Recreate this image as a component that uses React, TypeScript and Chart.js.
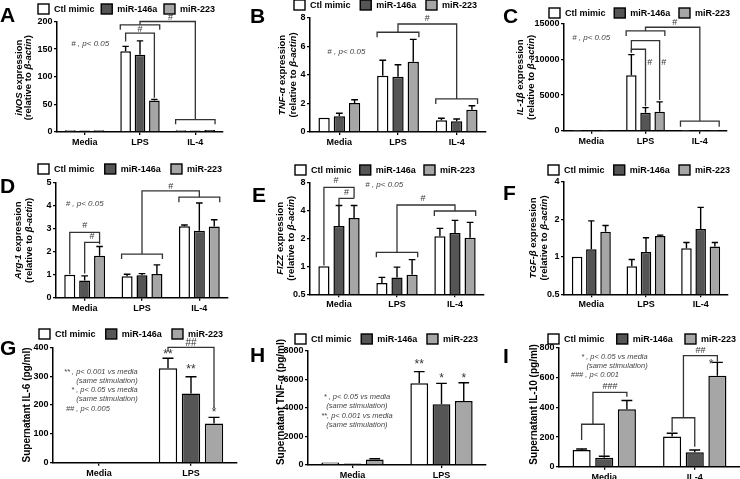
import React, { useEffect, useRef } from 'react';
import { Chart, registerables } from 'chart.js';

Chart.register(...registerables);

const FONT = 'Arial, "Liberation Sans", Helvetica, sans-serif';
Chart.defaults.font.family = FONT;

// ---------- shared ----------
const SERIES = ['Ctl mimic', 'miR-146a', 'miR-223'];
const SERIES_COLORS = ['#ffffff', '#555555', '#a6a6a6'];

const CATS_ABC = ['Media', 'LPS', 'IL-4'];
const CATS_DEF = ['Media', 'LPS', 'IL-4'];
const CATS_G = ['Media', 'LPS'];
const CATS_H = ['Media', 'LPS'];
const CATS_I = ['Media', 'IL-4'];

// ---------- A: iNOS ----------
const A_CTL = [3, 146, 3];
const A_146 = [2.5, 140, 2.5];
const A_223 = [3, 57, 3.5];
const A_CTL_UP = [null, 155, null];
const A_146_UP = [null, 165, null];
const A_223_UP = [null, 59, null];
const A_TICKS = [0, 50, 100, 150, 200];

// ---------- B: TNF-a ----------
const B_CTL = [1.0, 3.95, 0.82];
const B_146 = [1.1, 3.87, 0.75];
const B_223 = [2.03, 4.93, 1.57];
const B_CTL_UP = [null, 5.03, 0.97];
const B_146_UP = [1.32, 4.72, 0.91];
const B_223_UP = [2.26, 6.5, 1.84];
const B_TICKS = [0, 2, 4, 6, 8];

// ---------- C: IL-1b ----------
const C_CTL = [1, 7800, 1];
const C_146 = [1, 2520, 1];
const C_223 = [1, 2650, 1];
const C_CTL_UP = [null, 10700, null];
const C_146_UP = [null, 3250, null];
const C_223_UP = [null, 4050, null];
const C_TICKS = [0, 5000, 10000, 15000];

// ---------- D: Arg-1 ----------
const D_CTL = [1.0, 0.93, 3.12];
const D_146 = [0.75, 0.98, 2.92];
const D_223 = [1.83, 1.03, 3.1];
const D_CTL_UP = [null, 1.02, 3.17];
const D_146_UP = [0.95, 1.05, 4.13];
const D_223_UP = [2.23, 1.43, 3.4];
const D_TICKS = [0, 1, 2, 3, 4, 5];

// ---------- E: FIZZ ----------
const E_CTL = [1.0, 0.66, 2.1];
const E_146 = [2.72, 0.76, 2.28];
const E_223 = [3.3, 0.81, 2.03];
const E_CTL_UP = [null, 0.76, 2.56];
const E_146_UP = [4.5, 0.98, 3.12];
const E_223_UP = [4.5, 1.18, 2.97];
const E_TICKS = [0.5, 1, 2, 4, 8];

// ---------- F: TGF-b ----------
const F_CTL = [1.0, 0.84, 1.17];
const F_146 = [1.15, 1.09, 1.67];
const F_223 = [1.59, 1.47, 1.21];
const F_CTL_UP = [null, 0.95, 1.3];
const F_146_UP = [1.94, 1.42, 2.49];
const F_223_UP = [1.78, 1.49, 1.3];
const F_TICKS = [0.5, 1, 2, 4];

// ---------- G: IL-6 ----------
const G_CTL = [0, 327];
const G_146 = [0, 240];
const G_223 = [0, 136];
const G_CTL_UP = [null, 362];
const G_146_UP = [null, 298];
const G_223_UP = [null, 157];
const G_TICKS = [0, 100, 200, 300, 400];

// ---------- H: TNF-a supernatant ----------
const H_CTL = [170, 5730];
const H_146 = [110, 4260];
const H_223 = [390, 4490];
const H_CTL_UP = [null, 6550];
const H_146_UP = [null, 5730];
const H_223_UP = [440, 5770];
const H_TICKS = [0, 2000, 4000, 6000, 8000];

// ---------- I: IL-10 ----------
const I_CTL = [113, 203];
const I_146 = [61, 97];
const I_223 = [388, 613];
const I_CTL_UP = [119, 225];
const I_146_UP = [70, 113];
const I_223_UP = [446, 703];
const I_TICKS = [0, 200, 400, 600, 800];

// ---------- annotation helpers (x refs resolved through the chart's scales / bars) ----------
const bar = (c: number, d: number, e = 0) => ({ c, d, e });
const cat = (c: number) => ({ c });
const bracket = (x1: any, x2: any, y: number, y1: number, y2: number) => ({ k: 'path', pts: [[x1, y1], [x1, y], [x2, y], [x2, y2]] });
const link = (x1: any, y1: number, yTop: number, x2: any, y2: number) => ({ k: 'path', pts: [[x1, y1], [x1, yTop], [x2, yTop], [x2, y2]] });
const mark = (x: any, y: number, t: string, size = 9) => ({ k: 'text', x, y, t, size, italic: false, color: '#333', align: 'center' });
const note = (x: any, y: number, t: string, align = 'center', size = 8) => ({ k: 'text', x, y, t, size, italic: true, color: '#444', align });

const REL = '(relative to _β-actin_)';

const PANELS: any[] = [
  {
    letter: 'A', letterPos: [0, 22],
    box: { x: 0, y: 0, w: 245, h: 155 }, plot: { l: 57, t: 21.5, r: 223, b: 132 },
    cats: CATS_ABC, series: [A_CTL, A_146, A_223], up: [A_CTL_UP, A_146_UP, A_223_UP], ticks: A_TICKS,
    catPct: 0.78, barPct: 0.74, legend: { l: 38, r: 215, y: 9 },
    title: { lines: ['_iNOS_ expression', REL], dx: [-38, -29], dy: 1, size: 9.5 },
    ann: [
      bracket(bar(1, 0, -1), bar(1, 2, 1), 194, 185, 185),
      link(cat(1), 194, 200, cat(2), 22.5),
      bracket(bar(2, 0, -1), bar(2, 2, 1), 22.5, 14, 14),
      mark(cat(1.55), 207, '#'),
      bracket(bar(1, 0), bar(1, 2), 179, 164, 62),
      mark(cat(1), 185, '#'),
      note(cat(0.1), 159, '# , p< 0.05'),
    ],
  },
  {
    letter: 'B', letterPos: [250, 23],
    box: { x: 245, y: 0, w: 245, h: 155 }, plot: { l: 310, t: 18, r: 486, b: 132 },
    cats: CATS_ABC, series: [B_CTL, B_146, B_223], up: [B_CTL_UP, B_146_UP, B_223_UP], ticks: B_TICKS,
    catPct: 0.78, barPct: 0.74, legend: { l: 294, r: 477, y: 5 },
    title: { lines: ['_TNF-α_ expression', REL], dx: [-27.5, -17], dy: 0, size: 9.5 },
    ann: [
      bracket(bar(1, 0, -1), bar(1, 2, 1), 7.0, 6.65, 6.65),
      link(cat(1), 7.0, 7.58, cat(2), 2.32),
      bracket(bar(2, 0, -1), bar(2, 2, 1), 2.32, 1.96, 1.96),
      mark(cat(1.5), 7.95, '#'),
      note(cat(0.12), 5.6, '# , p< 0.05'),
    ],
  },
  {
    letter: 'C', letterPos: [503, 23],
    box: { x: 490, y: 0, w: 250, h: 155 }, plot: { l: 564, t: 24, r: 727, b: 130.7 },
    cats: CATS_ABC, series: [C_CTL, C_146, C_223], up: [C_CTL_UP, C_146_UP, C_223_UP], ticks: C_TICKS,
    catPct: 0.78, barPct: 0.74, legend: { l: 549, r: 730, y: 13 },
    title: { lines: ['_IL-1β_ expression', REL], dx: [-44, -32.5], dy: 0, size: 9.5 },
    ann: [
      bracket(bar(1, 0, -1), bar(1, 2, 1), 14020, 13320, 13320),
      link(cat(1), 14020, 14540, cat(2), 1360),
      bracket(bar(2, 0, -1), bar(2, 2, 1), 1360, 560, 560),
      mark(cat(1.54), 15150, '#'),
      bracket(bar(1, 0), bar(1, 2), 12660, 11000, 4310),
      bracket(bar(1, 0), bar(1, 1), 11450, 11000, 3450),
      mark(bar(1, 1, 0.8), 9560, '#'),
      mark(bar(1, 2, 0.8), 9560, '#'),
      note(cat(0), 13130, '# , p< 0.05'),
    ],
  },
  {
    letter: 'D', letterPos: [0, 193],
    box: { x: 0, y: 155, w: 245, h: 160 }, plot: { l: 56, t: 183, r: 228, b: 297.7 },
    cats: CATS_DEF, series: [D_CTL, D_146, D_223], up: [D_CTL_UP, D_146_UP, D_223_UP], ticks: D_TICKS,
    catPct: 0.78, barPct: 0.74, legend: { l: 38, r: 222, y: 169 },
    title: { lines: ['_Arg-1_ expression', REL], dx: [-38, -27], dy: 0, size: 9.5 },
    ann: [
      bracket(bar(0, 0), bar(0, 2), 2.85, 1.02, 2.33),
      bracket(bar(0, 1), bar(0, 2), 2.41, 1.06, 2.41),
      mark(cat(0), 3.14, '#'),
      mark(bar(0, 1.5), 2.66, '#'),
      bracket(bar(1, 0, -1), bar(1, 2, 1), 1.9, 1.69, 1.69),
      link(cat(1), 1.9, 4.66, cat(2), 4.38),
      bracket(bar(2, 0, -1), bar(2, 2, 1), 4.38, 4.16, 4.16),
      mark(cat(1.5), 4.86, '#'),
      note(cat(0), 4.08, '# , p< 0.05'),
    ],
  },
  {
    letter: 'E', letterPos: [252, 202],
    box: { x: 245, y: 155, w: 245, h: 160 }, plot: { l: 310, t: 182.3, r: 484, b: 294.3 },
    cats: CATS_DEF, series: [E_CTL, E_146, E_223], up: [E_CTL_UP, E_146_UP, E_223_UP], ticks: E_TICKS, log: true,
    catPct: 0.78, barPct: 0.74, legend: { l: 295, r: 475, y: 170 },
    title: { lines: ['_FIZZ_ expression', REL], dx: [-30, -19], dy: 0, size: 9.5 },
    ann: [
      bracket(bar(0, 0), bar(0, 2), 7.07, 1.02, 5.38),
      bracket(bar(0, 1), bar(0, 2), 5.38, 4.56, 5.38),
      mark(cat(-0.05), 8.3, '#'),
      mark(bar(0, 1.5), 6.24, '#'),
      bracket(bar(1, 0, -1), bar(1, 2, 1), 1.41, 1.25, 1.25),
      link(cat(1), 1.41, 4.56, cat(2), 3.93),
      bracket(bar(2, 0, -1), bar(2, 2, 1), 3.93, 3.47, 3.47),
      mark(cat(1.45), 5.4, '#'),
      note(cat(0.78), 7.5, '# , p< 0.05'),
    ],
  },
  {
    letter: 'F', letterPos: [503, 200],
    box: { x: 490, y: 155, w: 250, h: 160 }, plot: { l: 564, t: 181.7, r: 728, b: 294.3 },
    cats: CATS_DEF, series: [F_CTL, F_146, F_223], up: [F_CTL_UP, F_146_UP, F_223_UP], ticks: F_TICKS, log: true,
    catPct: 0.78, barPct: 0.74, legend: { l: 548, r: 730, y: 170 },
    title: { lines: ['_TGF-β_ expression', REL], dx: [-31, -20], dy: 0, size: 9.5 },
    ann: [],
  },
  {
    letter: 'G', letterPos: [0, 355],
    box: { x: 0, y: 315, w: 245, h: 164 }, plot: { l: 53, t: 347.3, r: 237, b: 462.7 },
    cats: CATS_G, series: [G_CTL, G_146, G_223], up: [G_CTL_UP, G_146_UP, G_223_UP], ticks: G_TICKS,
    catPct: 0.75, barPct: 0.8, legend: { l: 39, r: 223, y: 334 },
    title: { lines: ['Supernatant IL-6 (pg/ml)'], dx: [-25.5], dy: 0, size: 10 },
    ann: [
      mark(bar(1, 0), 376, '**', 12),
      mark(bar(1, 1), 321, '**', 12),
      mark(bar(1, 2), 175, '*', 12),
      bracket(bar(1, 0), bar(1, 2), 400, 385, 190),
      mark(cat(1), 414, '##', 10),
      note(cat(0.42), 313, '** , p< 0.001 vs media', 'right', 7.5),
      note(cat(0.42), 284, '(same stimulation)', 'right', 7.5),
      note(cat(0.42), 252, '* , p< 0.05 vs media', 'right', 7.5),
      note(cat(0.42), 220, '(same stimulation)', 'right', 7.5),
      note(cat(-0.36), 186, '## , p< 0.005', 'left', 7.5),
    ],
  },
  {
    letter: 'H', letterPos: [250, 362],
    box: { x: 245, y: 315, w: 245, h: 164 }, plot: { l: 308, t: 351, r: 486, b: 465 },
    cats: CATS_H, series: [H_CTL, H_146, H_223], up: [H_CTL_UP, H_146_UP, H_223_UP], ticks: H_TICKS,
    catPct: 0.75, barPct: 0.8, legend: { l: 295, r: 478, y: 339 },
    title: { lines: ['Supernatant TNF-α (pg/ml)'], dx: [-27], dy: -6, size: 10 },
    ann: [
      mark(bar(1, 0), 7020, '**', 12),
      mark(bar(1, 1), 6080, '*', 12),
      mark(bar(1, 2), 6080, '*', 12),
      note(cat(0.05), 4793, '* , p< 0.05 vs media', 'center', 7.5),
      note(cat(0.05), 4161, '(same stimulation)', 'center', 7.5),
      note(cat(0.05), 3460, '**, p< 0.001 vs media', 'center', 7.5),
      note(cat(0.05), 2807, '(same stimulation)', 'center', 7.5),
    ],
  },
  {
    letter: 'I', letterPos: [503, 363],
    box: { x: 490, y: 315, w: 250, h: 164 }, plot: { l: 559, t: 348, r: 740, b: 466.7 },
    cats: CATS_I, series: [I_CTL, I_146, I_223], up: [I_CTL_UP, I_146_UP, I_223_UP], ticks: I_TICKS,
    catPct: 0.75, barPct: 0.8, legend: { l: 548, r: 736, y: 339 },
    title: { lines: ['Supernatant IL-10 (pg/ml)'], dx: [-25], dy: -3, size: 10 },
    ann: [
      bracket(bar(0, 0), bar(0, 1), 286, 180, 72),
      link(bar(0, 0.5), 286, 501, bar(0, 2), 472),
      mark(bar(0, 1.25), 539, '###', 9),
      bracket(bar(1, 0), bar(1, 1), 330, 236, 135),
      link(bar(1, 0.5), 330, 748, bar(1, 2), 707),
      mark(bar(1, 1.25), 786, '##', 9),
      mark(bar(1, 2, -0.7), 690, '*', 12),
      note(cat(0.48), 741, '* , p< 0.05 vs media', 'right', 7.5),
      note(cat(0.48), 681, '(same stimulation)', 'right', 7.5),
      note(cat(-0.37), 618, '### , p< 0.001', 'left', 7.5),
    ],
  },
];

function resolveX(chart: any, ref: any): number {
  if (ref.d === undefined) return chart.scales.x.getPixelForValue(ref.c);
  const d0 = Math.floor(ref.d);
  const d1 = Math.ceil(ref.d);
  const e0 = chart.getDatasetMeta(d0).data[ref.c];
  const e1 = chart.getDatasetMeta(d1).data[ref.c];
  let x = e0.x + (e1.x - e0.x) * (ref.d - d0);
  if (ref.e) x += (ref.e * e0.width) / 2;
  return x;
}

function drawRotated(ctx: any, cx: number, cy: number, line: string, size: number) {
  const parts = line.split('_');
  ctx.save();
  ctx.translate(cx, cy);
  ctx.rotate(-Math.PI / 2);
  ctx.textBaseline = 'middle';
  ctx.textAlign = 'left';
  ctx.fillStyle = '#000';
  const fonts = parts.map((_, k) => `${k % 2 === 1 ? 'italic ' : ''}bold ${size}px ${FONT}`);
  const widths = parts.map((t, k) => {
    ctx.font = fonts[k];
    return ctx.measureText(t).width;
  });
  const total = widths.reduce((a, b) => a + b, 0);
  let x = -total / 2;
  parts.forEach((t, k) => {
    ctx.font = fonts[k];
    ctx.fillText(t, x, 0);
    x += widths[k];
  });
  ctx.restore();
}

function decor(p: any) {
  return {
    id: 'decor' + p.letter,
    afterDatasetsDraw(chart: any) {
      const ctx = chart.ctx;
      const ys = chart.scales.y;
      ctx.save();
      ctx.strokeStyle = '#000';
      ctx.lineWidth = 1.4;
      p.up.forEach((arr: any[], i: number) => {
        const meta = chart.getDatasetMeta(i);
        arr.forEach((hi: any, j: number) => {
          const v = p.series[i][j];
          if (hi == null || hi <= v) return;
          const el = meta.data[j];
          const yTop = ys.getPixelForValue(hi);
          const yBar = ys.getPixelForValue(v);
          const cap = el.width * 0.6;
          ctx.beginPath();
          ctx.moveTo(el.x, yBar);
          ctx.lineTo(el.x, yTop);
          ctx.moveTo(el.x - cap / 2, yTop);
          ctx.lineTo(el.x + cap / 2, yTop);
          ctx.stroke();
        });
      });
      ctx.restore();
    },
    afterDraw(chart: any) {
      const ctx = chart.ctx;
      const ox = p.box.x;
      const oy = p.box.y;
      const area = chart.chartArea;
      const ys = chart.scales.y;
      ctx.save();

      // panel letter
      ctx.fillStyle = '#000';
      ctx.font = `bold 21px ${FONT}`;
      ctx.textAlign = 'left';
      ctx.textBaseline = 'alphabetic';
      ctx.fillText(p.letter, p.letterPos[0] - ox, p.letterPos[1] - oy);

      // legend
      const lg = p.legend;
      ctx.font = `bold 9px ${FONT}`;
      const BW = 11, BH = 10, GAP = 5;
      const widths = SERIES.map((s) => ctx.measureText(s).width);
      const total = widths.reduce((a, w) => a + BW + GAP + w, 0);
      const space = (lg.r - lg.l - total) / (SERIES.length - 1);
      let lx = lg.l - ox;
      const ly = lg.y - oy;
      SERIES.forEach((s, i) => {
        ctx.fillStyle = SERIES_COLORS[i];
        ctx.fillRect(lx, ly - BH / 2, BW, BH);
        ctx.strokeStyle = '#000';
        ctx.lineWidth = 1.4;
        ctx.strokeRect(lx, ly - BH / 2, BW, BH);
        ctx.fillStyle = '#000';
        ctx.textBaseline = 'middle';
        ctx.textAlign = 'left';
        ctx.fillText(s, lx + BW + GAP, ly + 0.5);
        lx += BW + GAP + widths[i] + space;
      });

      // y-axis title
      const cy = (area.top + area.bottom) / 2 + p.title.dy;
      p.title.lines.forEach((line: string, k: number) => {
        drawRotated(ctx, area.left + p.title.dx[k], cy, line, p.title.size);
      });

      // annotations
      p.ann.forEach((a: any) => {
        if (a.k === 'path') {
          ctx.strokeStyle = '#333';
          ctx.lineWidth = 1.3;
          ctx.beginPath();
          a.pts.forEach((pt: any, n: number) => {
            const x = resolveX(chart, pt[0]);
            const y = ys.getPixelForValue(pt[1]);
            if (n === 0) ctx.moveTo(x, y);
            else ctx.lineTo(x, y);
          });
          ctx.stroke();
        } else {
          ctx.fillStyle = a.color;
          ctx.font = `${a.italic ? 'italic ' : ''}${a.size}px ${FONT}`;
          ctx.textAlign = a.align;
          ctx.textBaseline = 'middle';
          ctx.fillText(a.t, resolveX(chart, a.x), ys.getPixelForValue(a.y));
        }
      });
      ctx.restore();
    },
  };
}

function makeConfig(p: any): any {
  const padTop = p.plot.t - p.box.y;
  const padRight = p.box.x + p.box.w - p.plot.r;
  const yW = p.plot.l - p.box.x;
  const xH = p.box.y + p.box.h - p.plot.b;
  const tickFont = { family: FONT, size: 9, weight: 'bold' };
  const grid = { display: true, drawOnChartArea: false, drawTicks: true, tickLength: 3, color: '#000', lineWidth: 1.3 };
  const border = { display: true, color: '#000', width: 1.5 };
  return {
    type: 'bar',
    data: {
      labels: p.cats,
      datasets: p.series.map((vals: number[], i: number) => ({
        label: SERIES[i],
        data: vals,
        backgroundColor: SERIES_COLORS[i],
        borderColor: '#000',
        borderWidth: 1.5,
        borderSkipped: 'start',
        categoryPercentage: p.catPct,
        barPercentage: p.barPct,
      })),
    },
    options: {
      animation: false,
      responsive: false,
      maintainAspectRatio: false,
      devicePixelRatio: 1,
      events: [],
      layout: { padding: { left: 0, top: padTop, right: padRight, bottom: 0 } },
      plugins: { legend: { display: false }, tooltip: { enabled: false }, title: { display: false } },
      scales: {
        x: {
          type: 'category',
          offset: true,
          grid: { ...grid, offset: false },
          border,
          ticks: { color: '#000', font: tickFont, padding: 2, maxRotation: 0, autoSkip: false },
          afterFit: (s: any) => { s.height = xH; },
        },
        y: {
          type: p.log ? 'logarithmic' : 'linear',
          min: p.ticks[0],
          max: p.ticks[p.ticks.length - 1],
          grid,
          border,
          ticks: { color: '#000', font: tickFont, padding: 1.5, callback: (v: any) => String(v) },
          afterBuildTicks: (s: any) => { s.ticks = p.ticks.map((v: number) => ({ value: v })); },
          afterFit: (s: any) => { s.width = yW; },
        },
      },
    },
    plugins: [decor(p)],
  };
}

function PanelChart({ p }: { p: any }) {
  const ref = useRef<HTMLCanvasElement>(null);
  useEffect(() => {
    const chart = new Chart(ref.current as HTMLCanvasElement, makeConfig(p));
    return () => chart.destroy();
  }, [p]);
  return (
    <canvas
      ref={ref}
      width={p.box.w}
      height={p.box.h}
      style={{ position: 'absolute', left: p.box.x, top: p.box.y, width: p.box.w, height: p.box.h }}
    />
  );
}

export default function App() {
  return (
    <div style={{ position: 'absolute', left: 0, top: 0, width: 740, height: 479, background: '#ffffff', overflow: 'hidden' }}>
      {PANELS.map((p) => (
        <PanelChart key={p.letter} p={p} />
      ))}
    </div>
  );
}
